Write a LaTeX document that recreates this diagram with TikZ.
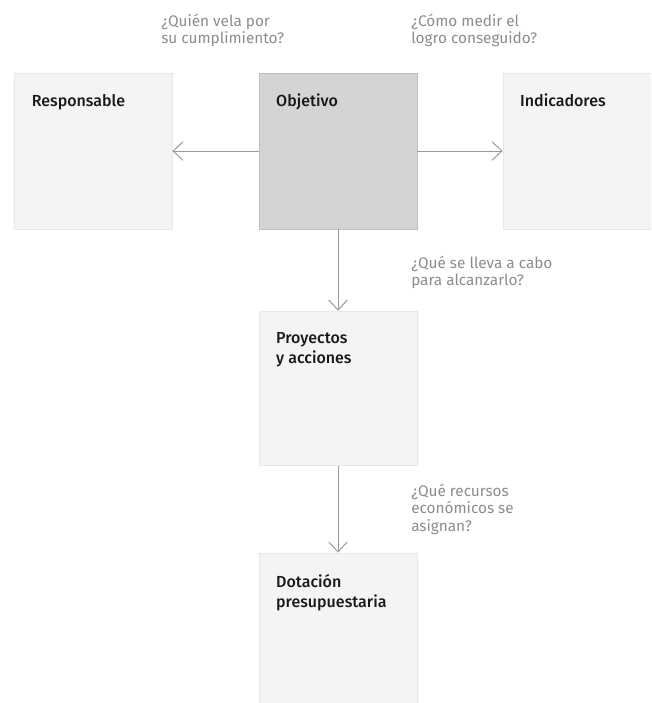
\documentclass[tikz,border=0pt]{standalone}
\usepackage{fontspec}
\setmainfont{Fira Sans}[BoldFont={* Medium}]
\usepackage{tikz}
\usetikzlibrary{arrows.meta, positioning}

\definecolor{cardfill}{HTML}{F4F4F4}
\definecolor{goalfill}{HTML}{D3D4D6}
\definecolor{qgray}{HTML}{8C8C8C}
\definecolor{linegray}{HTML}{9A9A9A}

\begin{document}
\begin{tikzpicture}[
    x=0.75pt, y=-0.75pt,
    >={Straight Barb[length=7.5pt,width=14pt]},
    every node/.style={inner sep=0pt},
    card/.style={draw=black!9, fill=cardfill, line width=0.6pt,
                 minimum width=118.5pt, minimum height=117pt},
    goal/.style={card, draw=goalfill!90!black, fill=goalfill},
    cardtxt/.style={font=\fontsize{12}{15}\selectfont\bfseries,
                    text=black!90, align=left},
    question/.style={font=\fontsize{11.5}{13}\selectfont,
                     text=qgray, align=left, anchor=north west},
    arrow/.style={->, draw=linegray, line width=0.75pt},
  ]

  %% --- page frame (the cards run past the right and bottom edges) -------
  \clip (0,0) rectangle (651,703);

  %% --- column x-positions and row y-positions ----------------------------
  \def\xL{93}       % responsable
  \def\xM{338}      % main column
  \def\xR{582}      % indicadores
  \def\yTop{151}    % top row
  \def\yMid{388.5}  % proyectos
  \def\yLow{631}    % dotacion

  %% --- cards -------------------------------------------------------------
  \node[card] (resp) at (\xL,\yTop) {};
  \node[goal] (obj)  at (\xM,\yTop) {};
  \node[card] (ind)  at (\xR,\yTop) {};
  \node[card, minimum height=116pt] (proy) at (\xM,\yMid) {};
  \node[card] (dot)  at (\xM,\yLow) {};

  %% --- card titles -------------------------------------------------------
  \node[cardtxt, below right=16pt and 13.5pt of resp.north west] (respT) {Responsable};
  \node[cardtxt, below right=16pt and 13pt of obj.north west]   (objT)  {Objetivo};
  \node[cardtxt, below right=16pt and 13pt of ind.north west]   (indT)  {Indicadores};
  \node[cardtxt, below right=16pt and 13pt of proy.north west]  (proyT) {Proyectos\\y acciones};
  \node[cardtxt, below right=16pt and 13pt of dot.north west]   (dotT)  {Dotación\\presupuestaria};

  %% --- questions ---------------------------------------------------------
  \node[question] (qResp) at (161,14)  {¿Quién vela por\\su cumplimiento?};
  \node[question] (qInd)  at (411,14)  {¿Cómo medir el\\logro conseguido?};
  \node[question] (qProy) at (411,256) {¿Qué se lleva a cabo\\para alcanzarlo?};
  \node[question] (qDot)  at (411,484) {¿Qué recursos\\económicos se\\asignan?};

  %% --- arrows ------------------------------------------------------------
  \draw[arrow] (obj.west)   -- (resp.east);
  \draw[arrow] (obj.east)   -- (ind.west);
  \draw[arrow] (obj.south)  -- (proy.north);
  \draw[arrow] (proy.south) -- (dot.north);

\end{tikzpicture}
\end{document}
